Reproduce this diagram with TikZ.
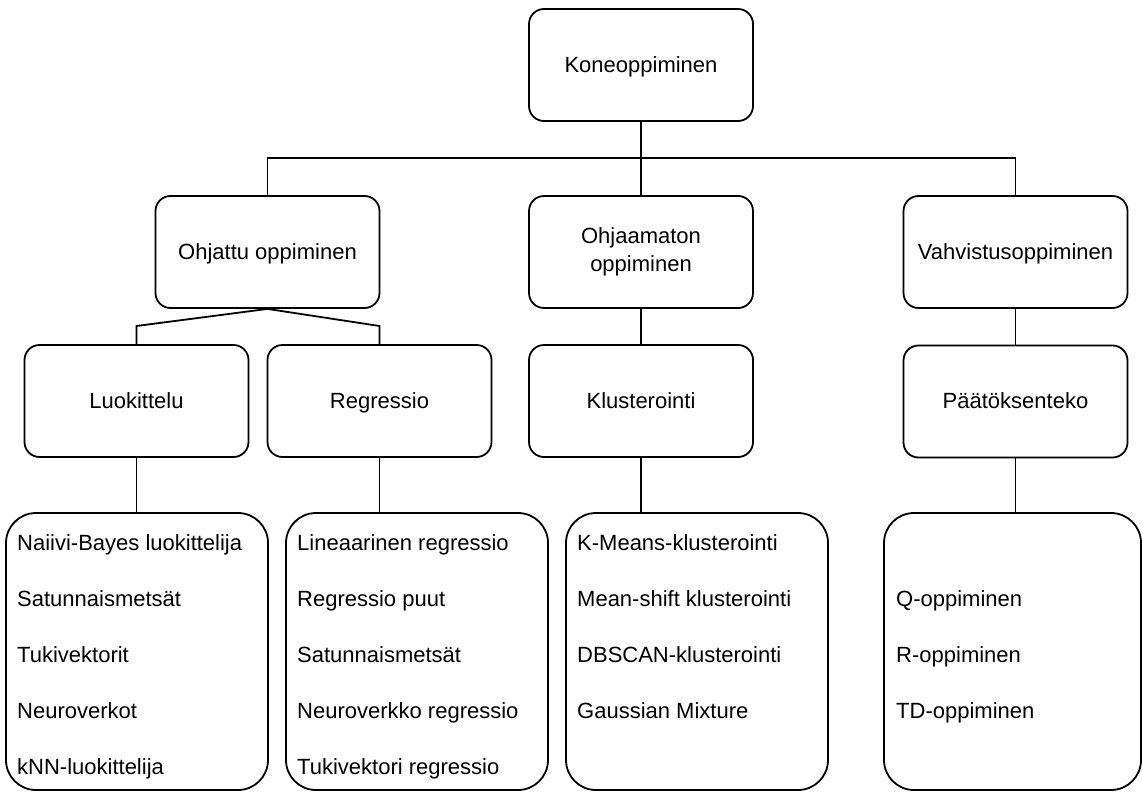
\documentclass[tikz,border=0pt]{standalone}
\usepackage{fontspec}
\setmainfont{Liberation Sans}
\begin{document}
\begin{tikzpicture}[x=1pt,y=-1pt,
  every node/.style={font=\fontsize{22}{26}\selectfont, text=black},
  boxbase/.style={draw=black, line width=1.8pt, rounded corners=15pt, fill=white,
    minimum width=224pt, minimum height=112pt, inner sep=0pt, align=center},
  box/.style={boxbase, text height=16pt, text depth=2pt},
  bigbox/.style={draw=black, line width=1.8pt, rounded corners=30pt, fill=white,
    minimum height=277pt, inner sep=0pt},
  item/.style={anchor=base west, inner sep=0pt},
  conn/.style={draw=black, line width=1.8pt}]
\fill[white] (0,0) rectangle (1142,792);
\useasboundingbox (0,0) rectangle (1142,792);

% nodes
\node[box] (kone) at (641,65) {Koneoppiminen};
\node[box] (ohj) at (267.5,252) {Ohjattu oppiminen};
\node[boxbase] (ohjm) at (641,252) {Ohjaamaton\\[2pt]oppiminen};
\node[box] (vahv) at (1015.5,252) {Vahvistusoppiminen};
\node[box] (luok) at (136.5,401) {Luokittelu};
\node[box] (regr) at (379.5,401) {Regressio};
\node[box] (klus) at (641,401) {Klusterointi};
\node[box] (paat) at (1015.5,401.5) {Päätöksenteko};

\node[bigbox, minimum width=262pt] (b1) at (137,651.5) {};
\node[bigbox, minimum width=262pt] (b2) at (417,651.5) {};
\node[bigbox, minimum width=262pt] (b3) at (697,651.5) {};
\node[bigbox, minimum width=257pt] (b4) at (1012.5,651.5) {};

% items
\node[item] (l1) at (17,550) {Naiivi-Bayes luokittelija};
\node[item] (l2) at (17,606) {Satunnaismetsät};
\node[item] (l3) at (17,662) {Tukivektorit};
\node[item] (l4) at (17,718) {Neuroverkot};
\node[item] (l5) at (17,774) {kNN-luokittelija};

\node[item] (r1) at (297,550) {Lineaarinen regressio};
\node[item] (r2) at (297,606) {Regressio puut};
\node[item] (r3) at (297,662) {Satunnaismetsät};
\node[item] (r4) at (297,718) {Neuroverkko regressio};
\node[item] (r5) at (297,774) {Tukivektori regressio};

\node[item] (k1) at (577,550) {K-Means-klusterointi};
\node[item] (k2) at (577,606) {Mean-shift klusterointi};
\node[item] (k3) at (577,662) {DBSCAN-klusterointi};
\node[item] (k4) at (577,718) {Gaussian Mixture};

\node[item] (q1) at (896,606) {Q-oppiminen};
\node[item] (q2) at (896,662) {R-oppiminen};
\node[item] (q3) at (896,718) {TD-oppiminen};

% connectors
\coordinate (hbar) at (641,158);
\draw[conn] (kone.south) -- (hbar);
\draw[conn] (hbar) -- (ohj.north |- hbar) -- (ohj.north);
\draw[conn] (hbar) -- (vahv.north |- hbar) -- (vahv.north);
\draw[conn] (hbar) -- (ohjm.north);
\coordinate (jl) at (136.5,326);
\coordinate (jr) at (379.5,326);
\draw[conn] (ohj.south) -- (jl) -- (luok.north);
\draw[conn] (ohj.south) -- (jr) -- (regr.north);
\draw[conn] (ohjm.south) -- (klus.north);
\draw[conn] (vahv.south) -- (paat.north);
\draw[conn] (luok.south) -- (luok.south |- b1.north);
\draw[conn] (regr.south) -- (regr.south |- b2.north);
\draw[conn] (klus.south) -- (klus.south |- b3.north);
\draw[conn] (paat.south) -- (paat.south |- b4.north);
\end{tikzpicture}
\end{document}
